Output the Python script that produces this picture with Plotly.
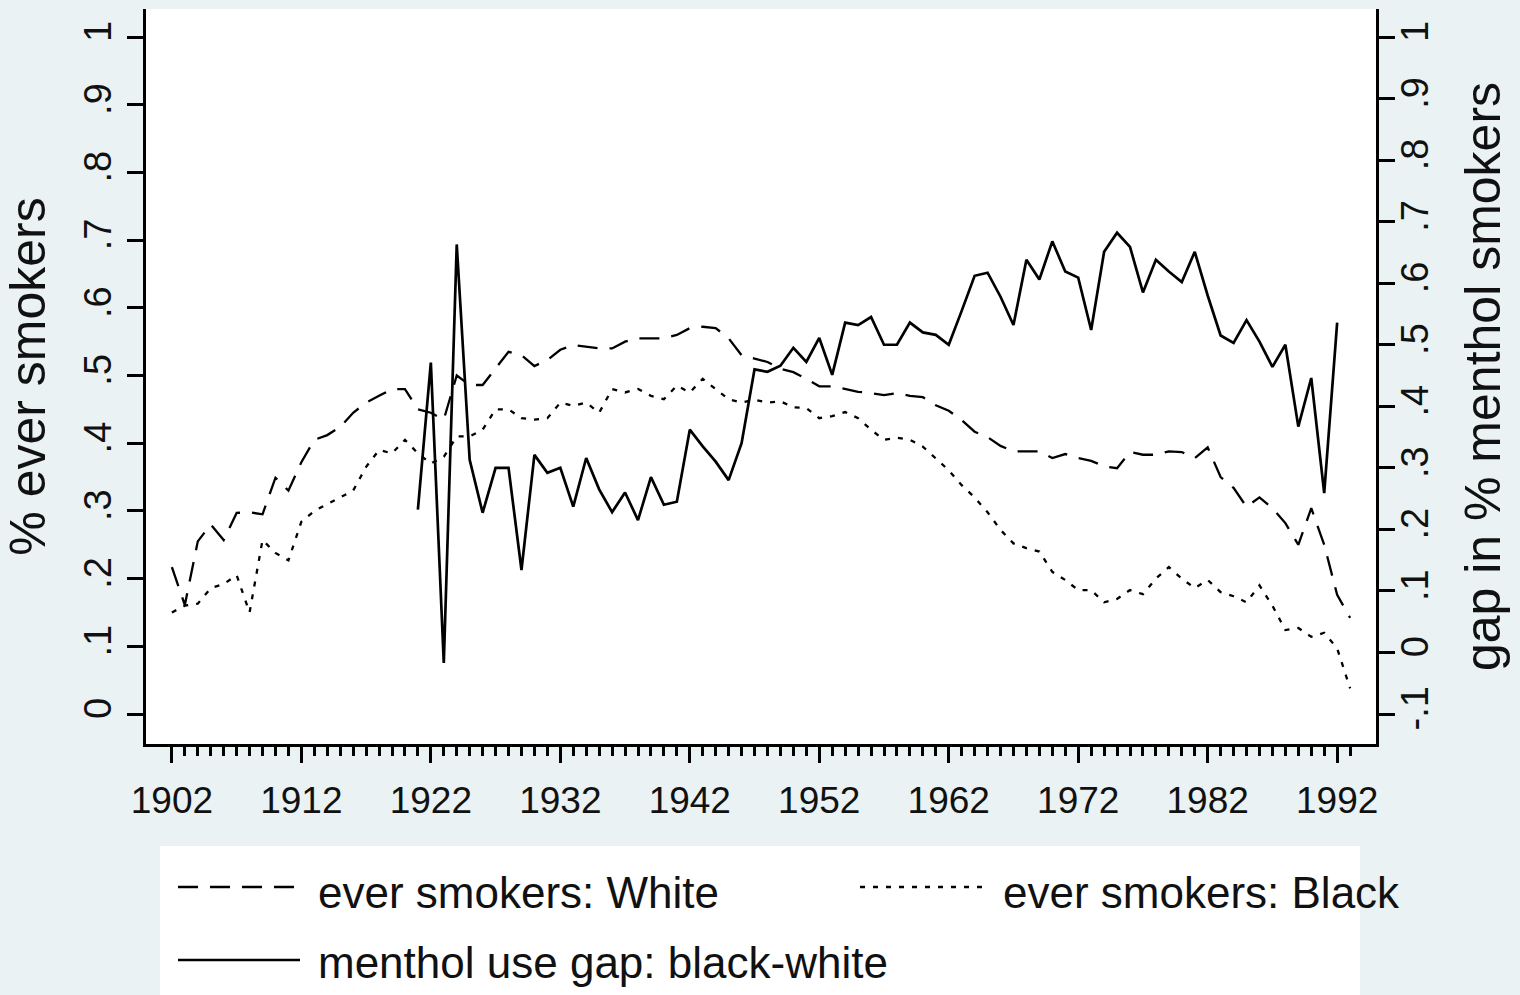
import plotly.graph_objects as go

# Survey years covered by the ever-smoker series
years = list(range(1902, 1994))

# Share of ever smokers, White respondents (left axis)
white_ever = [
    0.217, 0.161, 0.255, 0.280, 0.257, 0.297, 0.298, 0.295, 0.349, 0.330,
    0.372, 0.405, 0.412, 0.424, 0.445, 0.460, 0.470, 0.480, 0.480, 0.450,
    0.445, 0.435, 0.500, 0.486, 0.486, 0.511, 0.535, 0.530, 0.514, 0.523,
    0.538, 0.545, 0.542, 0.540, 0.540, 0.550, 0.555, 0.555, 0.555, 0.560,
    0.570, 0.572, 0.570, 0.555, 0.530, 0.525, 0.520, 0.510, 0.505, 0.495,
    0.484, 0.484, 0.480, 0.476, 0.474, 0.471, 0.474, 0.470, 0.468, 0.456,
    0.448, 0.434, 0.417, 0.409, 0.396, 0.388, 0.388, 0.388, 0.378, 0.384,
    0.378, 0.374, 0.366, 0.363, 0.387, 0.383, 0.383, 0.388, 0.387, 0.378,
    0.394, 0.350, 0.334, 0.306, 0.320, 0.304, 0.282, 0.250, 0.304, 0.250,
    0.176, 0.142,
]

# Share of ever smokers, Black respondents (left axis)
black_ever = [
    0.150, 0.160, 0.163, 0.186, 0.192, 0.205, 0.150, 0.257, 0.238, 0.227,
    0.284, 0.300, 0.310, 0.320, 0.330, 0.365, 0.390, 0.385, 0.405, 0.385,
    0.370, 0.380, 0.410, 0.410, 0.420, 0.450, 0.450, 0.437, 0.435, 0.437,
    0.460, 0.455, 0.460, 0.445, 0.480, 0.475, 0.480, 0.470, 0.465, 0.485,
    0.475, 0.495, 0.480, 0.465, 0.460, 0.464, 0.460, 0.462, 0.453, 0.452,
    0.437, 0.440, 0.446, 0.437, 0.420, 0.405, 0.408, 0.405, 0.395, 0.378,
    0.360, 0.338, 0.320, 0.298, 0.272, 0.252, 0.245, 0.240, 0.210, 0.198,
    0.183, 0.183, 0.165, 0.170, 0.183, 0.177, 0.200, 0.217, 0.200, 0.186,
    0.198, 0.180, 0.174, 0.165, 0.190, 0.160, 0.124, 0.127, 0.114, 0.120,
    0.097, 0.038,
]

# Black-white gap in menthol use (right axis)
gap_years = list(range(1921, 1993))
menthol_gap = [
    0.232, 0.471, -0.017, 0.663, 0.313, 0.227, 0.300, 0.300, 0.134, 0.321,
    0.292, 0.300, 0.237, 0.316, 0.265, 0.228, 0.260, 0.215, 0.285, 0.240,
    0.245, 0.362, 0.335, 0.310, 0.280, 0.340, 0.460, 0.456, 0.466, 0.495,
    0.472, 0.511, 0.451, 0.536, 0.532, 0.545, 0.500, 0.500, 0.536, 0.520,
    0.516, 0.500, 0.555, 0.612, 0.617, 0.578, 0.532, 0.638, 0.606, 0.668,
    0.619, 0.609, 0.524, 0.651, 0.682, 0.659, 0.585, 0.638, 0.619, 0.602,
    0.651, 0.580, 0.515, 0.503, 0.540, 0.505, 0.464, 0.500, 0.367, 0.446,
    0.259, 0.536,
]

# Axis ticks
x_ticks = list(range(1902, 1993, 10))
x_minor = list(range(1902, 1994))
left_vals = [0, 0.1, 0.2, 0.3, 0.4, 0.5, 0.6, 0.7, 0.8, 0.9, 1.0]
left_text = ["0", ".1", ".2", ".3", ".4", ".5", ".6", ".7", ".8", ".9", "1"]
right_vals = [-0.1, 0, 0.1, 0.2, 0.3, 0.4, 0.5, 0.6, 0.7, 0.8, 0.9, 1.0]
right_text = ["-.1", "0", ".1", ".2", ".3", ".4", ".5", ".6", ".7", ".8", ".9", "1"]

labels = ["ever smokers: White", "ever smokers: Black", "menthol use gap: black-white"]

DASH_WHITE = "20px,12px"
DASH_BLACK = "5px,8px"
FONT = "Liberation Sans, Arial, sans-serif"
INK = "#111111"
W_DASH = 2.3
W_SOLID = 2.7

fig = go.Figure()
fig.add_trace(go.Scatter(
    x=years, y=white_ever, mode="lines", name=labels[0], showlegend=False,
    line=dict(color="black", width=W_DASH, dash=DASH_WHITE),
))
fig.add_trace(go.Scatter(
    x=years, y=black_ever, mode="lines", name=labels[1], showlegend=False,
    line=dict(color="black", width=W_DASH, dash=DASH_BLACK),
))
fig.add_trace(go.Scatter(
    x=gap_years, y=menthol_gap, mode="lines", name=labels[2], showlegend=False,
    yaxis="y2", line=dict(color="black", width=W_SOLID),
))

axis_common = dict(
    showgrid=False, zeroline=False, showline=True, linewidth=3, linecolor="black",
    ticks="outside", ticklen=16, tickwidth=3, tickcolor="black",
)

fig.update_layout(
    width=1520, height=995,
    margin=dict(l=146, r=144, t=9, b=251, autoexpand=False),
    paper_bgcolor="#EAF2F3", plot_bgcolor="white",
    showlegend=False,
    xaxis=dict(
        **axis_common,
        range=[1900, 1995], tickmode="array", tickvals=x_ticks,
        ticktext=[str(v) for v in x_ticks],
        tickfont=dict(family=FONT, size=37, color=INK),
        ticklabelstandoff=6,
        minor=dict(tickmode="array", tickvals=x_minor, ticks="outside",
                   ticklen=9, tickwidth=3, tickcolor="black"),
    ),
    yaxis=dict(
        **axis_common,
        range=[-0.0443, 1.0414], tickmode="array", tickvals=left_vals,
        ticktext=left_text, tickangle=-90,
        tickfont=dict(family=FONT, size=38, color=INK),
        ticklabelstandoff=1,
        title=dict(text="% ever smokers", standoff=29,
                   font=dict(family=FONT, size=50, color=INK)),
    ),
    yaxis2=dict(
        **axis_common,
        overlaying="y", side="right",
        range=[-0.1487, 1.0455], tickmode="array", tickvals=right_vals,
        ticktext=right_text, tickangle=-90,
        tickfont=dict(family=FONT, size=38, color=INK),
        ticklabelstandoff=-13,
        title=dict(text="gap in % menthol smokers", standoff=31,
                   font=dict(family=FONT, size=50, color=INK)),
    ),
)

# Key box below the plot, in paper units (plot spans 146..1376 px wide, 9..744 px tall)
def px_x(v):
    return (v - 146) / 1230.0


def px_y(v):
    return (744 - v) / 735.0


shapes = [
    dict(type="rect", xref="paper", yref="paper", layer="below",
         x0=px_x(160), x1=px_x(1360), y0=px_y(1000), y1=px_y(846),
         fillcolor="white", line=dict(width=0)),
    dict(type="line", xref="paper", yref="paper",
         x0=px_x(178), x1=px_x(300), y0=px_y(887), y1=px_y(887),
         line=dict(color="black", width=W_DASH, dash=DASH_WHITE)),
    dict(type="line", xref="paper", yref="paper",
         x0=px_x(860), x1=px_x(985), y0=px_y(887), y1=px_y(887),
         line=dict(color="black", width=W_DASH, dash=DASH_BLACK)),
    dict(type="line", xref="paper", yref="paper",
         x0=px_x(178), x1=px_x(300), y0=px_y(960), y1=px_y(960),
         line=dict(color="black", width=W_SOLID)),
]
key_text = [
    (labels[0], 316, 893),
    (labels[1], 1001, 893),
    (labels[2], 316, 962),
]
annotations = [
    dict(text=t, xref="paper", yref="paper", x=px_x(xp), y=px_y(yp),
         xanchor="left", yanchor="middle", showarrow=False,
         font=dict(family=FONT, size=44, color=INK))
    for t, xp, yp in key_text
]
fig.update_layout(shapes=shapes, annotations=annotations)

fig.write_html("out.html")
